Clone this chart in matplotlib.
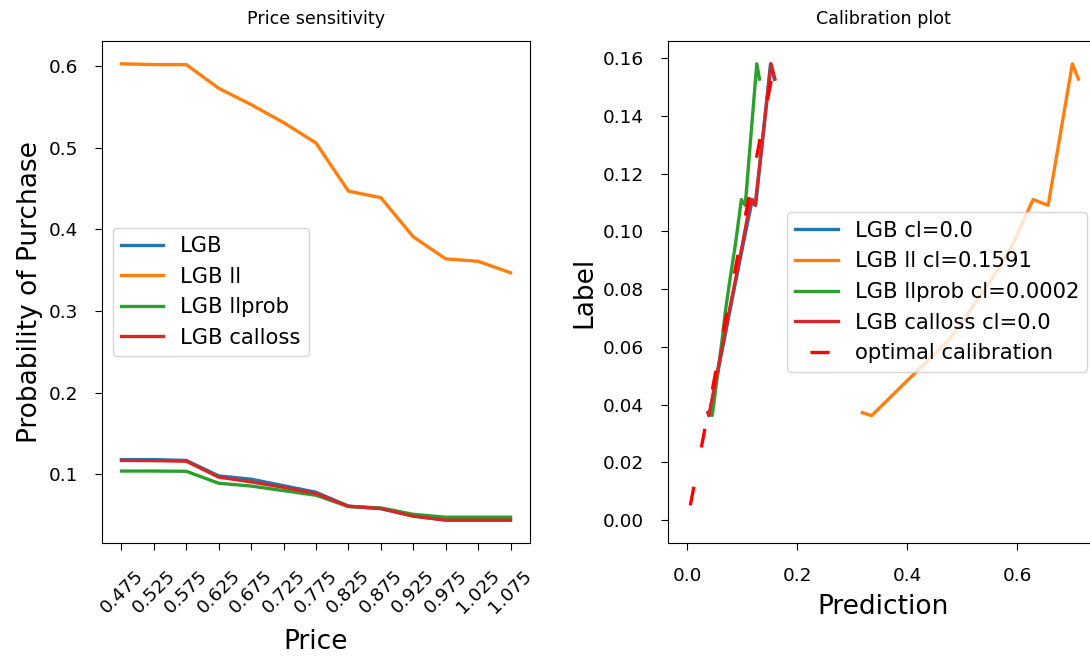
import numpy as np
import matplotlib
matplotlib.use('Agg')
import matplotlib.pyplot as plt

# Price sensitivity data (mean predicted purchase probability per price)
prices = [0.475, 0.525, 0.575, 0.625, 0.675, 0.725, 0.775, 0.825, 0.875, 0.925, 0.975, 1.025, 1.075]
lgb = [0.118, 0.118, 0.117, 0.098, 0.094, 0.086, 0.078, 0.061, 0.058, 0.049, 0.044, 0.044, 0.044]
lgb_ll = [0.603, 0.602, 0.602, 0.573, 0.553, 0.531, 0.506, 0.447, 0.439, 0.391, 0.364, 0.361, 0.347]
lgb_llprob = [0.104, 0.104, 0.1037, 0.089, 0.0856, 0.080, 0.0743, 0.0605, 0.0588, 0.051, 0.0474, 0.0474, 0.0474]
lgb_calloss = [0.117, 0.1167, 0.116, 0.0965, 0.0907, 0.084, 0.0764, 0.0608, 0.058, 0.0487, 0.0438, 0.0438, 0.0438]

# Calibration data (mean label vs mean prediction per bin)
cal_label = [0.0372, 0.0362, 0.039, 0.048, 0.055, 0.0626, 0.0724, 0.083, 0.0953, 0.111, 0.109, 0.158, 0.1527]
cal_lgb = [0.038, 0.0395, 0.0425, 0.052, 0.059, 0.067, 0.077, 0.088, 0.101, 0.118, 0.124, 0.151, 0.158]
cal_ll = [0.318, 0.335, 0.350, 0.398, 0.436, 0.4767, 0.513, 0.552, 0.591, 0.6286, 0.656, 0.700, 0.711]
cal_llprob = [0.043, 0.0448, 0.047, 0.053, 0.058, 0.063, 0.069, 0.077, 0.087, 0.098, 0.105, 0.126, 0.131]
cal_calloss = [0.037, 0.0387, 0.0416, 0.051, 0.058, 0.066, 0.076, 0.087, 0.0997, 0.115, 0.123, 0.152, 0.159]
cl_values = ['0.0', '0.1591', '0.0002', '0.0']
optimal = [0.0, 0.157]
pred_ticks = [0.0, 0.2, 0.4, 0.6]

fig = plt.figure(figsize=(10.9, 6.58), dpi=100)
ax1 = fig.add_axes([0.0936, 0.1748, 0.3926, 0.7629])
ax2 = fig.add_axes([0.6128, 0.1748, 0.3945, 0.7629])

lw = 2.4
tick_fs = 13.3
label_fs = 19
legend_fs = 15.2
title_fs = 12.6

ax1.plot(prices, lgb, label='LGB', lw=lw)
ax1.plot(prices, lgb_ll, label='LGB ll', lw=lw)
ax1.plot(prices, lgb_llprob, label='LGB llprob', lw=lw)
ax1.plot(prices, lgb_calloss, label='LGB calloss', lw=lw)
ax1.set_xticks(prices)
ax1.set_xticklabels([str(p) for p in prices], rotation=45)
ax1.tick_params(labelsize=tick_fs, length=5, pad=12)
ax1.set_xlabel('Price', fontsize=label_fs, labelpad=9)
ax1.set_ylabel('Probability of Purchase', fontsize=label_fs)
ax1.set_title('Price sensitivity', fontsize=title_fs, pad=12.5)
ax1.legend(loc='center left', fontsize=legend_fs)

names = ['LGB', 'LGB ll', 'LGB llprob', 'LGB calloss']
for name, xs, cl in zip(names, [cal_lgb, cal_ll, cal_llprob, cal_calloss], cl_values):
    ax2.plot(xs, cal_label, label=f'{name} cl={cl}', lw=lw)
ax2.plot(optimal, optimal, color='red', lw=lw, linestyle=(13.2, (5.7, 12)), label='optimal calibration')
ax2.set_xticks(pred_ticks)
ax2.tick_params(labelsize=tick_fs, length=5, pad=12)
ax2.set_xlabel('Prediction', fontsize=label_fs, labelpad=7)
ax2.set_ylabel('Label', fontsize=label_fs)
ax2.set_title('Calibration plot', fontsize=title_fs, pad=12.5)
ax2.legend(loc='center right', fontsize=legend_fs)

fig.savefig('out.png', dpi=100)
